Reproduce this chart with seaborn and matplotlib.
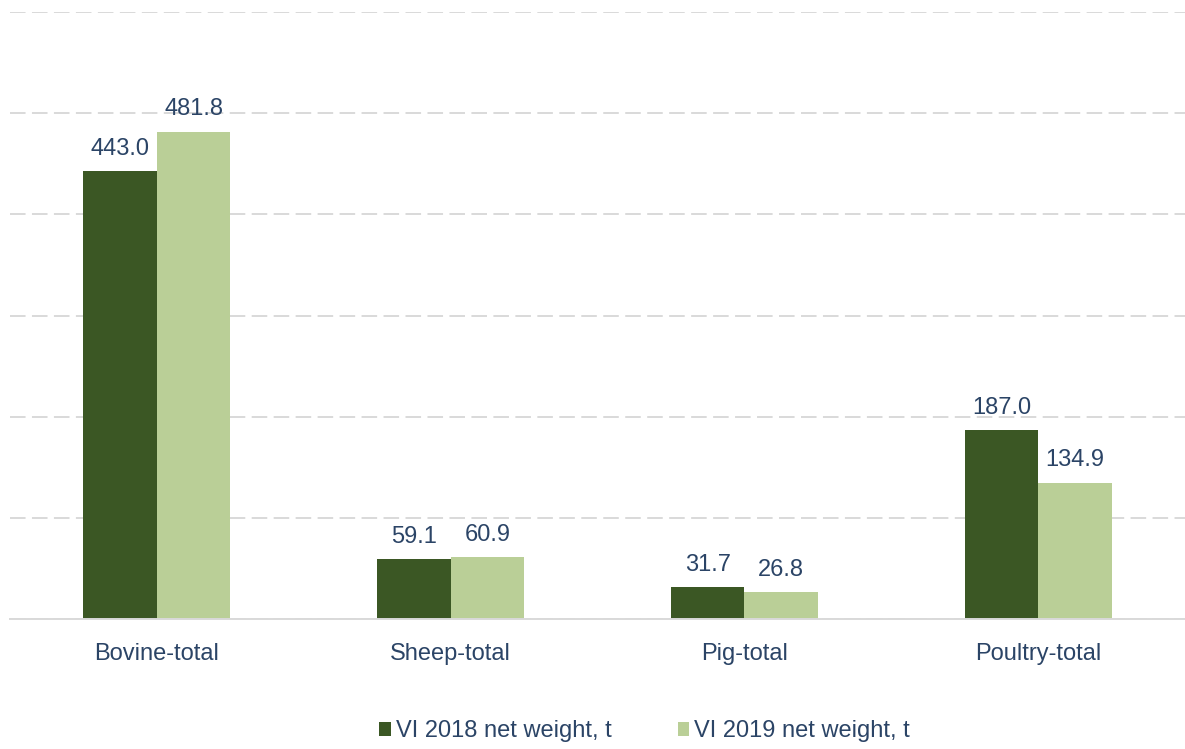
import pandas as pd
import matplotlib.pyplot as plt
import seaborn as sns

categories = ['Bovine-total', 'Sheep-total', 'Pig-total', 'Poultry-total']
series = ['VI 2018 net weight, t', 'VI 2019 net weight, t']
values_2018 = [443.0, 59.1, 31.7, 187.0]
values_2019 = [481.8, 60.9, 26.8, 134.9]

df = pd.DataFrame({
    'category': categories * 2,
    'series': [series[0]] * 4 + [series[1]] * 4,
    'value': values_2018 + values_2019,
})

sns.set_style('white')
plt.rcParams['font.family'] = ['Liberation Sans', 'DejaVu Sans']
text_color = '#2B4466'
colors = ['#3B5724', '#BACF97']

fig = plt.figure(figsize=(11.85, 7.49), dpi=100)
ax = fig.add_axes([10 / 1185, 1 - 619 / 749, 1 - 10 / 1185, (619 - 12) / 749])

sns.barplot(data=df, x='category', y='value', hue='series', palette=colors,
            width=0.5, gap=0, saturation=1, linewidth=0, ax=ax, legend=True)

for cont in ax.containers:
    ax.bar_label(cont, fmt='%.1f', padding=8, fontsize=17, color=text_color)

ax.set_ylim(0, 600)
ax.set_xlim(-0.5, 3.5)
ax.set_yticks(range(0, 601, 100))
ax.yaxis.grid(True, color='#D9D9D9', linestyle=(0, (8, 3.3)), linewidth=1.4)
ax.set_axisbelow(True)
ax.tick_params(axis='y', left=False, labelleft=False)
ax.tick_params(axis='x', bottom=False, labelsize=17, labelcolor=text_color, pad=14)
ax.set_xlabel('')
ax.set_ylabel('')
for side in ['top', 'left', 'right']:
    ax.spines[side].set_visible(False)
ax.spines['bottom'].set_color('#D9D9D9')
ax.spines['bottom'].set_linewidth(1.4)

handles, labels = ax.get_legend_handles_labels()
ax.legend(handles, labels, loc='center', bbox_to_anchor=(0.54, -0.185), ncol=2,
          frameon=False, fontsize=17, labelcolor=text_color, handlelength=0.5,
          handleheight=0.5, handletextpad=0.2, columnspacing=2.8)

fig.savefig('out.png', dpi=100)
